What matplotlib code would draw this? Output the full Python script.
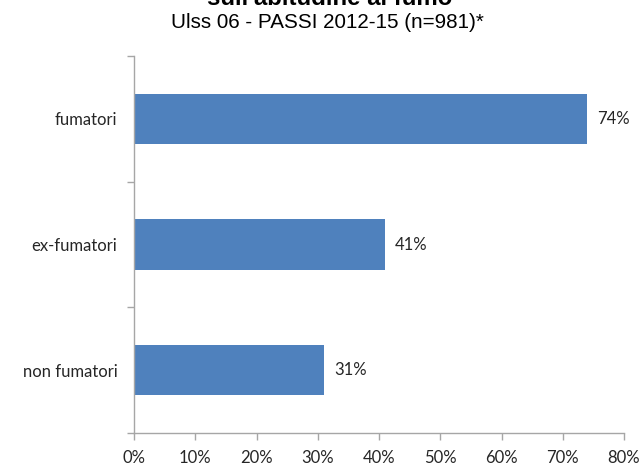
import matplotlib
matplotlib.use("Agg")
import matplotlib.pyplot as plt
from matplotlib.ticker import FuncFormatter

categories = ["non fumatori", "ex-fumatori", "fumatori"]
values = [31, 41, 74]
x_ticks = [0, 10, 20, 30, 40, 50, 60, 70, 80]

bar_color = "#4f81bd"
axis_color = "#a6a6a6"
label_font = ["Lato", "DejaVu Sans"]
title_font = ["Liberation Sans", "DejaVu Sans"]

fig = plt.figure(figsize=(6.4, 4.68), dpi=100)
ax = fig.add_axes([134 / 640, 1 - 433 / 468, (624 - 134) / 640, (433 - 56) / 468])

ypos = range(len(categories))
ax.barh(ypos, values, height=0.4, color=bar_color, zorder=2)
for y, v in zip(ypos, values):
    ax.annotate(f"{v}%", xy=(v, y), xytext=(10, 0), textcoords="offset pixels",
                va="center", ha="left", fontsize=12, family=label_font, color="#262626")

ax.set_xlim(0, 80)
ax.set_ylim(-0.5, len(categories) - 0.5)
ax.set_xticks(x_ticks)
ax.xaxis.set_major_formatter(FuncFormatter(lambda v, p: f"{v:.0f}%"))
ax.set_yticks(list(ypos))
ax.set_yticklabels(categories)
ax.set_yticks([-0.5, 0.5, 1.5, 2.5], minor=True)

for lab in ax.get_xticklabels() + ax.get_yticklabels():
    lab.set_family(label_font)
    lab.set_fontsize(12)
    lab.set_color("#262626")

ax.tick_params(axis="y", which="major", length=0, pad=12)
ax.tick_params(axis="y", which="minor", length=5, color=axis_color, width=1)
ax.tick_params(axis="x", which="major", length=5, color=axis_color, width=1, pad=7)

for s in ["top", "right"]:
    ax.spines[s].set_visible(False)
for s in ["left", "bottom"]:
    ax.spines[s].set_color(axis_color)
    ax.spines[s].set_linewidth(1)

fig.text(330 / 640, 1 - 5 / 468, "sull'abitudine al fumo", ha="center", va="baseline",
         fontsize=17.3, fontweight="bold", family=title_font)
fig.text(327 / 640, 1 - 28 / 468, "Ulss 06 - PASSI 2012-15 (n=981)*", ha="center",
         va="baseline", fontsize=14.9, family=title_font)

fig.savefig("out.png", dpi=100)
